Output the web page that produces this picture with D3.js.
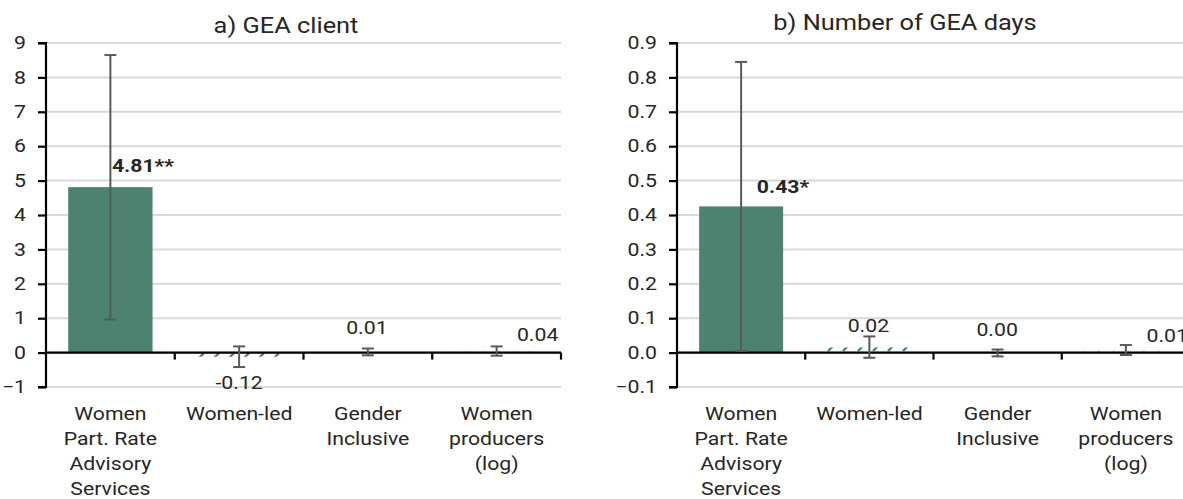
<!DOCTYPE html>
<html>
<head>
<meta charset="utf-8">
<script src="https://cdn.jsdelivr.net/npm/d3@7"></script>
<style>
  html, body { margin: 0; padding: 0; background: #ffffff; }
  svg { display: block; }
  text { font-family: Roboto, "Noto Sans", sans-serif; fill: #262626; }
</style>
</head>
<body>
<svg id="chart" width="1183" height="499"></svg>
<script>
// ---------------- data ----------------
const categories = [
  ["Women", "Part. Rate", "Advisory", "Services"],
  ["Women-led"],
  ["Gender", "Inclusive"],
  ["Women", "producers", "(log)"]
];
const significant = [true, false, false, false];

// panel a) GEA client
const clientValues = [4.81, -0.12, 0.01, 0.04];
const clientLow    = [0.96, -0.42, -0.08, -0.09];
const clientHigh   = [8.65, 0.18, 0.12, 0.18];
const clientLabels = ["4.81**", "-0.12", "0.01", "0.04"];
const clientTicks  = [-1, 0, 1, 2, 3, 4, 5, 6, 7, 8, 9];

// panel b) Number of GEA days
const daysValues = [0.425, 0.015, 0.001, 0.005];
const daysLow    = [0.005, -0.015, -0.011, -0.007];
const daysHigh   = [0.845, 0.047, 0.009, 0.022];
const daysLabels = ["0.43*", "0.02", "0.00", "0.01"];
const daysTicks  = [-0.1, 0, 0.1, 0.2, 0.3, 0.4, 0.5, 0.6, 0.7, 0.8, 0.9];

// ---------------- layout / style ----------------
const barColor = "#4d8273";
const errColor = "#595959";
const gridColor = "#d9d9d9";
const SX = 1.18; // horizontal stretch of the reference lettering

const panels = [
  {
    title: "a) GEA client", titleX: 286, titleY: 33,
    x0: 46, x1: 561, domain: [-1, 9], ticks: clientTicks, fmt: d3.format("d"),
    values: clientValues, low: clientLow, high: clientHigh, labels: clientLabels,
    labelPos: [[1.5, -15, "start", "value"], [0, 21.5, "middle", "low"], [-1, -14, "middle", "high"], [41, -5, "middle", "high"]]
  },
  {
    title: "b) Number of GEA days", titleX: 905, titleY: 29.5,
    x0: 677, x1: 1190, domain: [-0.1, 0.9], ticks: daysTicks, fmt: d3.format(".1f"),
    values: daysValues, low: daysLow, high: daysHigh, labels: daysLabels,
    labelPos: [[15.7, -13, "start", "value"], [-1, -4.5, "middle", "high"], [-0.5, -14, "middle", "high"], [20.7, -3, "start", "high"]]
  }
];

const svg = d3.select("#chart");

const defs = svg.append("defs");
const pat = defs.append("pattern")
  .attr("id", "hatch")
  .attr("patternUnits", "userSpaceOnUse")
  .attr("width", 15).attr("height", 8);
pat.append("path")
  .attr("d", "M3,7 L9,1")
  .attr("stroke", barColor)
  .attr("stroke-width", 2.4)
  .attr("fill", "none");

// place a stretched text at (x, y)
function stretchedText(sel, x, y) {
  return sel.attr("transform", `translate(${x},${y}) scale(${SX},1)`);
}

panels.forEach(p => {
  const g = svg.append("g");
  const y = d3.scaleLinear().domain(p.domain).range([387, 43]);
  const x = d3.scaleBand().domain(d3.range(categories.length)).range([p.x0, p.x1]).paddingInner(0.345).paddingOuter(0.1725);
  const xc = d3.scaleBand().domain(d3.range(categories.length)).range([p.x0, p.x1]);

  // gridlines
  g.append("g").selectAll("line").data(p.ticks).join("line")
    .attr("x1", p.x0).attr("x2", p.x1)
    .attr("y1", d => y(d)).attr("y2", d => y(d))
    .attr("stroke", gridColor).attr("stroke-width", 2);

  // bars
  g.append("g").selectAll("rect").data(p.values).join("rect")
    .attr("x", (d, i) => x(i))
    .attr("width", x.bandwidth())
    .attr("y", d => Math.min(y(d), y(0)))
    .attr("height", d => Math.abs(y(d) - y(0)))
    .attr("fill", (d, i) => significant[i] ? barColor : "url(#hatch)");

  // y axis
  const yAxis = d3.axisLeft(y).tickValues(p.ticks).tickFormat(p.fmt).tickSize(8).tickPadding(9);
  const ya = g.append("g").attr("transform", `translate(${p.x0},0)`).call(yAxis);
  ya.select(".domain").attr("stroke", "#000").attr("stroke-width", 2.2).attr("d", `M-8,${y(p.domain[0])}H0V${y(p.domain[1])}H-8`);
  ya.selectAll(".tick line").attr("stroke", "#000").attr("stroke-width", 2.2);
  ya.selectAll(".tick text")
    .attr("font-size", 18).attr("fill", "#262626")
    .attr("transform", `scale(${SX},1)`);

  // x axis on zero line
  g.append("line")
    .attr("x1", p.x0).attr("x2", p.x1)
    .attr("y1", y(0)).attr("y2", y(0))
    .attr("stroke", "#000").attr("stroke-width", 2.2);
  const bounds = d3.range(1, categories.length + 1).map(i => p.x0 + i * xc.bandwidth());
  g.append("g").selectAll("line").data(bounds).join("line")
    .attr("x1", d => d).attr("x2", d => d)
    .attr("y1", y(0)).attr("y2", y(0) + 7)
    .attr("stroke", "#000").attr("stroke-width", 2.2);

  // error bars
  const eb = g.append("g").attr("stroke", errColor).attr("stroke-width", 2).selectAll("g")
    .data(p.values.map((v, i) => ({ i, lo: p.low[i], hi: p.high[i] }))).join("g");
  const cx = d => xc(d.i) + xc.bandwidth() / 2;
  eb.append("line").attr("x1", cx).attr("x2", cx).attr("y1", d => y(d.lo)).attr("y2", d => y(d.hi));
  eb.append("line").attr("x1", d => cx(d) - 6).attr("x2", d => cx(d) + 6).attr("y1", d => y(d.lo)).attr("y2", d => y(d.lo));
  eb.append("line").attr("x1", d => cx(d) - 6).attr("x2", d => cx(d) + 6).attr("y1", d => y(d.hi)).attr("y2", d => y(d.hi));

  // category labels
  const cl = g.append("g").selectAll("text").data(categories).join("text")
    .each(function (d, i) { stretchedText(d3.select(this), xc(i) + xc.bandwidth() / 2, 420); })
    .attr("text-anchor", "middle")
    .attr("font-size", 18);
  cl.selectAll("tspan").data(d => d).join("tspan")
    .attr("x", 0)
    .attr("dy", (d, j) => j === 0 ? 0 : 25)
    .text(d => d);

  // value labels
  g.append("g").selectAll("text").data(p.labels).join("text")
    .each(function (d, i) {
      const ref = p.labelPos[i][3];
      const v = ref === "value" ? p.values[i] : ref === "low" ? p.low[i] : p.high[i];
      stretchedText(d3.select(this), xc(i) + xc.bandwidth() / 2 + p.labelPos[i][0], y(v) + p.labelPos[i][1]);
    })
    .attr("text-anchor", (d, i) => p.labelPos[i][2])
    .attr("font-size", 18)
    .attr("font-weight", (d, i) => significant[i] ? "bold" : "normal")
    .text(d => d);

  // title
  stretchedText(g.append("text"), p.titleX, p.titleY)
    .attr("text-anchor", "middle")
    .attr("font-size", 21.5)
    .text(p.title);
});
</script>
</body>
</html>
